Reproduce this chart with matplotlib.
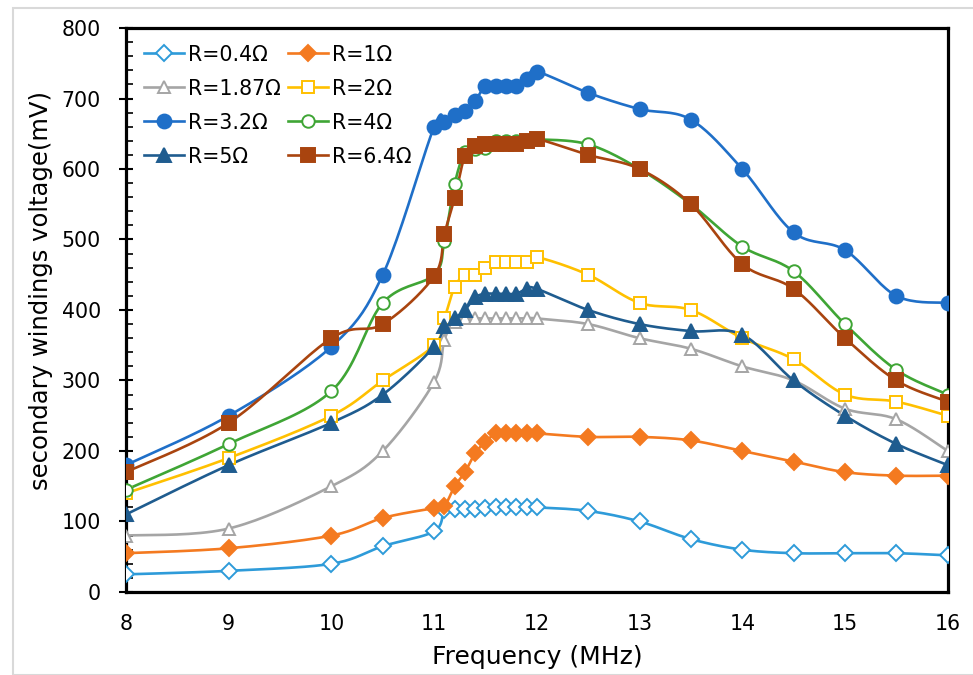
import numpy as np
import matplotlib.pyplot as plt
from matplotlib.patches import Rectangle

plt.rcParams['font.family'] = ['DejaVu Sans']

# frequency points (MHz)
freq = [8, 9, 10, 10.5, 11, 11.1, 11.2, 11.3, 11.4, 11.5, 11.6, 11.7, 11.8, 11.9, 12,
        12.5, 13, 13.5, 14, 14.5, 15, 15.5, 16]

# secondary voltage (mV) for each load resistance
v_r04 = [25, 30, 40, 65, 86, 116, 117, 117, 118, 119, 120, 120, 120, 120, 120,
         115, 100, 75, 60, 55, 55, 55, 52]
v_r1 = [55, 62, 80, 105, 119, 122, 150, 170, 197, 213, 225, 225, 225, 225, 225,
        220, 220, 215, 200, 185, 170, 165, 165]
v_r187 = [80, 90, 150, 200, 298, 358, 383, 388, 388, 388, 388, 388, 388, 388, 388,
          380, 360, 345, 320, 300, 260, 245, 200]
v_r2 = [140, 190, 250, 300, 350, 388, 433, 449, 449, 460, 468, 468, 468, 468, 475,
        450, 410, 400, 360, 330, 280, 270, 250]
v_r32 = [180, 250, 348, 450, 660, 667, 677, 682, 697, 718, 718, 718, 718, 727, 738,
         708, 685, 670, 600, 510, 485, 420, 410]
v_r4 = [145, 210, 285, 410, 450, 498, 579, 624, 628, 630, 640, 640, 640, 640, 642,
        635, 600, 550, 490, 455, 380, 315, 280]
v_r5 = [110, 180, 240, 280, 348, 378, 388, 400, 418, 423, 423, 423, 423, 430, 430,
        400, 380, 370, 365, 300, 250, 210, 180]
v_r64 = [170, 240, 360, 380, 448, 508, 559, 619, 632, 635, 635, 635, 635, 640, 643,
         620, 600, 550, 465, 430, 360, 300, 270]


def smooth(x, y, n=20):
    # Catmull-Rom curve through the points (like Excel "smoothed line")
    p = np.column_stack([x, y]).astype(float)
    p = np.vstack([p[0], p, p[-1]])
    out = []
    t = np.linspace(0, 1, n, endpoint=False)[:, None]
    for i in range(1, len(p) - 2):
        p0, p1, p2, p3 = p[i - 1], p[i], p[i + 1], p[i + 2]
        c1 = p1 + (p2 - p0) / 6
        c2 = p2 - (p3 - p1) / 6
        seg = ((1 - t) ** 3 * p1 + 3 * (1 - t) ** 2 * t * c1
               + 3 * (1 - t) * t ** 2 * c2 + t ** 3 * p2)
        out.append(seg)
    out.append(p[-2][None, :])
    out = np.vstack(out)
    return out[:, 0], out[:, 1]


series = [
    ("R=0.4Ω", v_r04, "#2E9BD9", "D", "none", 8),
    ("R=1Ω", v_r1, "#F47A20", "D", "#F47A20", 8.5),
    ("R=1.87Ω", v_r187, "#A5A5A5", "^", "none", 9),
    ("R=2Ω", v_r2, "#FFC000", "s", "none", 9),
    ("R=3.2Ω", v_r32, "#1F6FC8", "o", "#1F6FC8", 10),
    ("R=4Ω", v_r4, "#3FA535", "o", "none", 9),
    ("R=5Ω", v_r5, "#1F5C8F", "^", "#1F5C8F", 9.5),
    ("R=6.4Ω", v_r64, "#A9440F", "s", "#A9440F", 10),
]

fig = plt.figure(figsize=(9.73, 6.75), dpi=100)
ax = fig.add_axes([0.1295, 0.123, 0.8445, 0.8355])

handles = []
for label, v, c, m, fc, ms in series:
    sx, sy = smooth(freq, v)
    ax.plot(sx, sy, color=c, lw=1.9, zorder=2)
    mfc = "white" if fc == "none" else fc
    ax.plot(freq, v, ls="none", marker=m, ms=ms, mfc=mfc, mec=c, mew=1.4, zorder=3)
    h, = ax.plot([], [], color=c, lw=1.9, marker=m, ms=ms, mfc=mfc, mec=c,
                 mew=1.4, label=label)
    handles.append(h)

ax.set_xlim(8, 16)
ax.set_ylim(0, 800)
ax.set_xticks(range(8, 17))
ax.set_yticks(range(0, 801, 100))
ax.set_yticks(range(0, 801, 20), minor=True)
ax.tick_params(axis="both", labelsize=14.8, width=1.5)
ax.tick_params(axis="y", which="major", direction="inout", length=10, pad=13)
ax.tick_params(axis="y", which="minor", direction="in", length=5, width=1.2)
ax.tick_params(axis="x", which="major", length=0, pad=16)
for s in ax.spines.values():
    s.set_linewidth(2.3)

ax.set_xlabel("Frequency (MHz)", fontsize=18, labelpad=8)
ax.set_ylabel("secondary windings voltage(mV)", fontsize=17.5, labelpad=6)
ax.yaxis.label.set_y(0.535)

# legend fills row by row in the reference
order = [0, 2, 4, 6, 1, 3, 5, 7]
ax.legend([handles[i] for i in order], [series[i][0] for i in order],
          loc="upper left", ncol=2, frameon=False, fontsize=14.8,
          handlelength=1.95, handletextpad=0.2, columnspacing=0.35,
          labelspacing=0.68, borderaxespad=0.0, bbox_to_anchor=(0.012, 0.985))

# outer chart-area border
fig.patches.append(Rectangle((13 / 973, 0), 1, 1 - 8 / 675, transform=fig.transFigure,
                             fill=False, ec="#D9D9D9", lw=1.5))

fig.savefig("out.png", dpi=100)
